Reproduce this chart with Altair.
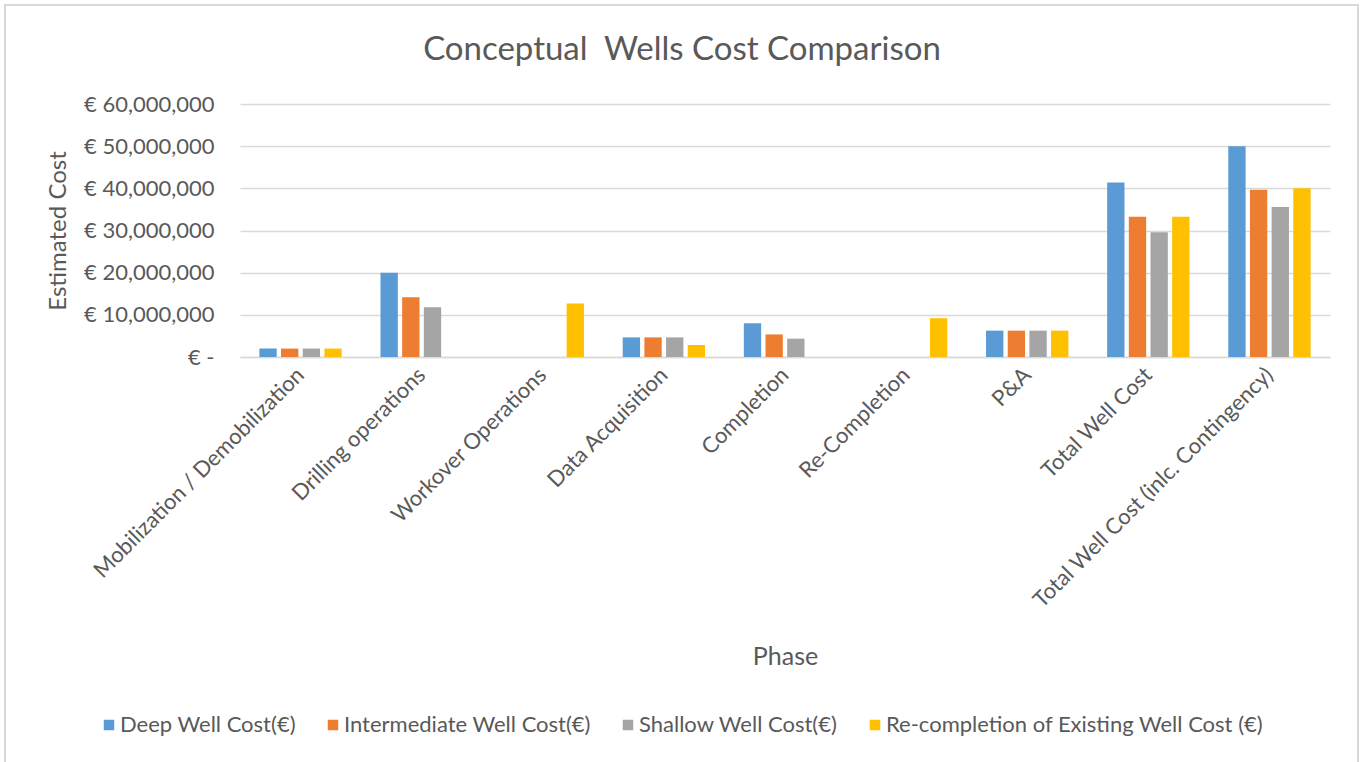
import altair as alt
import pandas as pd

# Cost phases (x-axis categories)
phases = [
    "Mobilization / Demobilization",
    "Drilling operations",
    "Workover Operations",
    "Data Acquisition",
    "Completion",
    "Re-Completion",
    "P&A",
    "Total Well Cost",
    "Total Well Cost (inlc. Contingency)",
]

# Well types (series)
series = [
    "Deep Well Cost(€)",
    "Intermediate Well Cost(€)",
    "Shallow Well Cost(€)",
    "Re-completion of Existing Well Cost (€)",
]

# Estimated costs in euro, one list per well type, in phase order
deep_cost = [2_000_000, 20_000_000, 0, 4_650_000, 8_000_000, 0, 6_250_000, 41_400_000, 50_000_000]
intermediate_cost = [2_000_000, 14_150_000, 0, 4_650_000, 5_350_000, 0, 6_250_000, 33_250_000, 39_650_000]
shallow_cost = [2_000_000, 11_800_000, 0, 4_650_000, 4_350_000, 0, 6_250_000, 29_600_000, 35_600_000]
recompletion_cost = [2_000_000, 0, 12_700_000, 2_850_000, 0, 9_200_000, 6_250_000, 33_250_000, 40_000_000]

colors = ["#5B9BD5", "#ED7D31", "#A5A5A5", "#FFC000"]

title_text = "Conceptual\u00a0 Wells Cost Comparison"

rows = []
for name, values in zip(series, [deep_cost, intermediate_cost, shallow_cost, recompletion_cost]):
    for phase, v in zip(phases, values):
        rows.append({"Phase": phase, "Series": name, "Cost": v})
df = pd.DataFrame(rows)

FONT = "Lato"
TEXT = "#595959"
GRID = "#D9D9D9"

W, H = 1090, 253

bars = alt.Chart(df).mark_bar().encode(
    x=alt.X(
        "Phase:N",
        sort=phases,
        scale=alt.Scale(paddingInner=0.32, paddingOuter=0.16),
        axis=alt.Axis(
            title="Phase",
            labelAngle=-45,
            labelAlign="right",
            labelBaseline="middle",
            labelPadding=14,
            labelFontSize=22,
            labelColor=TEXT,
            labelFont=FONT,
            labelLimit=500,
            ticks=False,
            domainColor=GRID,
            domainWidth=1.5,
            titleFont=FONT,
            titleFontSize=25,
            titleFontWeight="normal",
            titleColor=TEXT,
            titleY=287,
            titleBaseline="top",
        ),
    ),
    xOffset=alt.XOffset(
        "Series:N",
        sort=series,
        scale=alt.Scale(paddingInner=0.2, paddingOuter=0),
    ),
    y=alt.Y(
        "Cost:Q",
        scale=alt.Scale(domain=[0, 60_000_000], nice=False),
        axis=alt.Axis(
            title="Estimated Cost",
            values=[0, 10_000_000, 20_000_000, 30_000_000, 40_000_000, 50_000_000, 60_000_000],
            labelExpr="datum.value == 0 ? '€ -' : '€ ' + format(datum.value, ',')",
            labelFontSize=22,
            labelColor=TEXT,
            labelFont=FONT,
            labelPadding=26,
            ticks=False,
            domain=False,
            gridColor=GRID,
            gridWidth=1.5,
            titleFont=FONT,
            titleFontSize=24,
            titleFontWeight="normal",
            titleColor=TEXT,
            titleX=-170,
            titleY=H / 2,
        ),
    ),
    color=alt.Color(
        "Series:N",
        sort=series,
        scale=alt.Scale(domain=series, range=colors),
        legend=alt.Legend(
            title=None,
            orient="none",
            direction="horizontal",
            legendX=-142,
            legendY=610,
            symbolType="square",
            symbolSize=110,
            symbolStrokeWidth=0,
            labelFont=FONT,
            labelFontSize=22,
            labelColor=TEXT,
            labelLimit=600,
            labelOffset=0,
            columnPadding=26,
        ),
    ),
)

# Light grey outline around the whole chart area
frame = alt.Chart(pd.DataFrame({"k": [0]})).mark_rect(
    fill=None, stroke=GRID, strokeWidth=2
).encode(
    x=alt.value(-235), x2=alt.value(1118), y=alt.value(-99), y2=alt.value(680)
)

# Chart heading, centred over the whole figure
heading = alt.Chart(pd.DataFrame({"t": [title_text]})).mark_text(
    font=FONT, fontSize=33, color=TEXT, align="center", baseline="middle"
).encode(
    text="t:N", x=alt.value(442), y=alt.value(-54)
)

chart = alt.layer(frame, bars, heading).properties(
    width=W,
    height=H,
    background="white",
    autosize=alt.AutoSizeParams(type="none"),
    padding={"left": 240, "top": 104, "right": 35, "bottom": 405},
).configure_view(stroke=None)

chart.save("out.html", embed_options={"renderer": "svg", "actions": False})
